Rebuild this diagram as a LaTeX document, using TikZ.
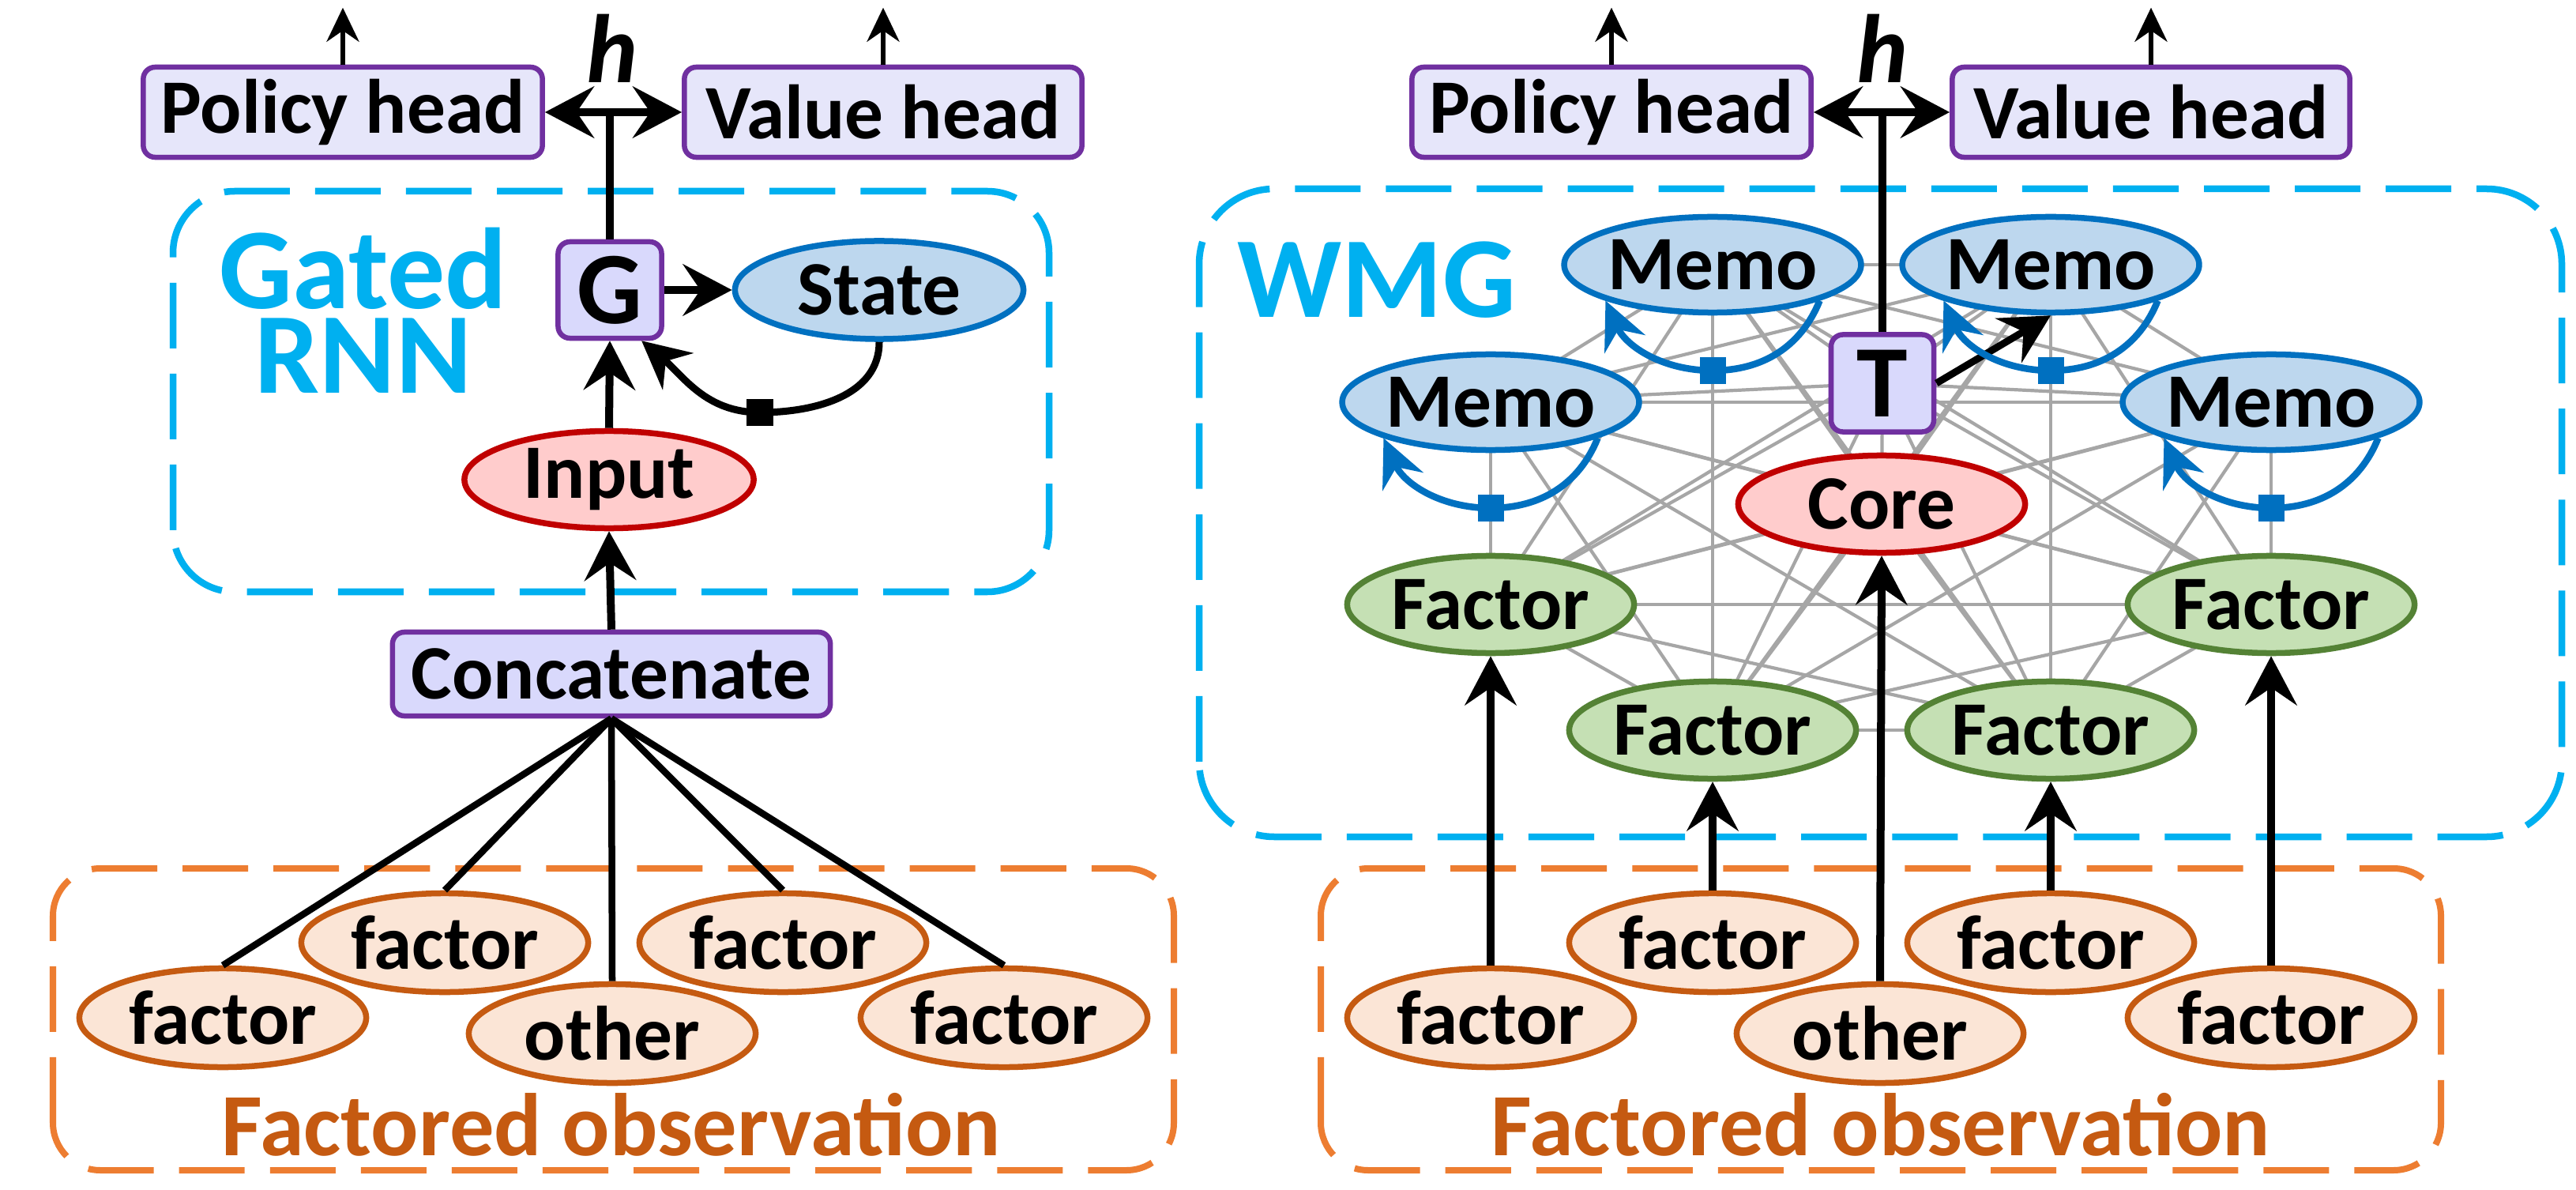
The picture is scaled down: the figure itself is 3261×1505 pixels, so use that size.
\documentclass[tikz,border=0pt]{standalone}
\usepackage{fontspec}
\setmainfont{Carlito}
\usetikzlibrary{arrows.meta,shapes.geometric,backgrounds,calc}
\definecolor{purpB}{HTML}{7030A0}
\definecolor{headF}{HTML}{E6E6FA}
\definecolor{opF}{HTML}{D9D9FC}
\definecolor{blueB}{HTML}{0070C0}
\definecolor{blueF}{HTML}{BDD7EE}
\definecolor{redB}{HTML}{C00000}
\definecolor{redF}{HTML}{FFCCCC}
\definecolor{greenB}{HTML}{548235}
\definecolor{greenF}{HTML}{C5E0B4}
\definecolor{orB}{HTML}{C55A11}
\definecolor{orF}{HTML}{FBE5D6}
\definecolor{orD}{HTML}{ED7D31}
\definecolor{cyanD}{HTML}{00B0F0}
\definecolor{meshC}{HTML}{A6A6A6}
\begin{document}
\begin{tikzpicture}[x=0.01cm,y=0.01cm,
  lbl/.style={font=\fontsize{27.7}{33}\selectfont\bfseries, text=black, inner sep=0pt},
  headbox/.style={lbl, rectangle, rounded corners=0.15cm, draw=purpB, fill=headF, line width=0.065cm, minimum width=5.05cm, minimum height=1.14cm},
  opbox/.style={rectangle, rounded corners=0.15cm, draw=purpB, fill=opF, line width=0.065cm, inner sep=0pt},
  gatebox/.style={opbox, font=\fontsize{37}{40}\selectfont\bfseries, minimum width=1.31cm, minimum height=1.22cm},
  ell/.style={lbl, ellipse, line width=0.075cm, minimum width=3.63cm, minimum height=1.23cm},
  memo/.style={ell, draw=blueB, fill=blueF, minimum height=1.21cm},
  redell/.style={ell, draw=redB, fill=redF},
  fac/.style={ell, draw=greenB, fill=greenF},
  fobs/.style={ell, draw=orB, fill=orF, minimum height=1.25cm},
  arr/.style={line width=0.1cm, -{Stealth[length=0.62cm,width=0.65cm,inset=0.22cm]}},
  dblarr/.style={line width=0.1cm, {Stealth[length=0.62cm,width=0.65cm,inset=0.22cm]}-{Stealth[length=0.62cm,width=0.65cm,inset=0.22cm]}},
  thinarr/.style={line width=0.06cm, -{Stealth[length=0.43cm,width=0.41cm,inset=0.14cm]}},
  plainline/.style={line width=0.1cm},
  conn/.style={line width=0.085cm},
  loopb/.style={draw=blueB, line width=0.085cm, -{Stealth[length=0.6cm,width=0.56cm,inset=0.2cm]}},
  loopk/.style={line width=0.09cm, -{Stealth[length=0.6cm,width=0.6cm,inset=0.2cm]}},
  sqb/.style={rectangle, fill=blueB, minimum size=0.33cm, inner sep=0pt},
  sqk/.style={rectangle, fill=black, minimum size=0.34cm, inner sep=0pt},
  mesh/.style={draw=meshC, line width=0.042cm},
  cyanbox/.style={draw=cyanD, line width=0.085cm, dash pattern=on 0.83cm off 0.32cm},
  orbox/.style={draw=orD, line width=0.08cm, dash pattern=on 0.83cm off 0.32cm, rounded corners=0.6cm},
  title/.style={font=\fontsize{41.5}{30.4}\selectfont\bfseries, text=cyanD, inner sep=0pt, align=center},
  obstitle/.style={font=\fontsize{32}{36}\selectfont\bfseries, text=orB, inner sep=0pt, anchor=base},
  hlbl/.style={font=\fontsize{35}{40}\selectfont\bfseries\itshape, inner sep=0pt, anchor=base}
]
\useasboundingbox (0,0) rectangle (3261,1505);

% ---------------- Left panel ----------------
\node[headbox] (policyL) at (434,1363) {Policy head};
\node[headbox, minimum width=5.03cm] (valueL) at (1118,1363) {Value head};
\node[gatebox] (G) at (772,1138) {G};
\node[memo, minimum width=3.65cm, minimum height=1.24cm] (state) at (1113,1138) {State};
\node[redell, minimum width=3.66cm] (input) at (771,898) {Input};
\node[opbox, lbl, minimum width=5.54cm, minimum height=1.06cm] (concat) at (774,652) {Concatenate};
\node[fobs] (lf1) at (282,217) {factor};
\node[fobs] (lf2) at (563,312) {factor};
\node[fobs] (lother) at (775,197) {other};
\node[fobs] (lf4) at (991,312) {factor};
\node[fobs] (lf5) at (1271,217) {factor};
\node[title] (gtitle) at (460,1112) {Gated\\RNN};
\node[obstitle] (obsL) at (774,43) {Factored observation};
\node[hlbl] (hL) at (775,1400) {h};
\node[sqk] (sqL) at (962,983) {};

\draw[thinarr] (policyL.north) -- ++(0,72);
\draw[thinarr] (valueL.north) -- ++(0,72);
\draw[dblarr] (policyL.east) -- (valueL.west);
\draw[plainline] (G.north) -- (G.north |- policyL.east);
\draw[arr] (G.east) -- (state.west);
\draw[arr] (input.north) -- (G.south);
\draw[arr] (concat.north) -- (input.south);
\draw[loopk] (state.south) to[out=-90,in=0] (sqL.center) to[out=180,in=-40] (G.-58);
\foreach \n in {lf1,lf2,lother,lf4,lf5} \draw[conn] (concat.south) -- (\n.north);

% ---------------- Right panel ----------------
\node[headbox] (policyR) at (2040,1363) {Policy head};
\node[headbox, minimum width=5.03cm] (valueR) at (2723,1363) {Value head};
\node[gatebox, minimum width=1.30cm, minimum height=1.23cm] (T) at (2383,1020) {T};
\node[memo] (m1) at (2168,1170) {Memo};
\node[memo] (m2) at (2596,1170) {Memo};
\node[memo] (m3) at (1887,996) {Memo};
\node[memo] (m4) at (2875,996) {Memo};
\node[redell] (core) at (2382,867) {Core};
\node[fac] (f1) at (1887,740) {Factor};
\node[fac] (f2) at (2875,740) {Factor};
\node[fac] (f3) at (2168,581) {Factor};
\node[fac] (f4) at (2596,581) {Factor};
\node[fobs] (rf1) at (1887,217) {factor};
\node[fobs] (rf2) at (2168,312) {factor};
\node[fobs] (rother) at (2380,197) {other};
\node[fobs] (rf4) at (2596,312) {factor};
\node[fobs] (rf5) at (2875,217) {factor};
\node[title, anchor=base] (wtitle) at (1743,1103) {WMG};
\node[obstitle] (obsR) at (2381,43) {Factored observation};
\node[hlbl] (hR) at (2383,1400) {h};
\node[sqb] (s1) at (2168,1036) {};
\node[sqb] (s2) at (2596,1036) {};
\node[sqb] (s3) at (1887,862) {};
\node[sqb] (s4) at (2875,862) {};

\draw[thinarr] (policyR.north) -- ++(0,72);
\draw[thinarr] (valueR.north) -- ++(0,72);
\draw[dblarr] (policyR.east) -- (valueR.west);
\draw[plainline] (T.north) -- (T.north |- policyR.east);
\draw[arr, line width=0.09cm] (T.east) -- (m2.south);
\draw[arr] (rf1.north) -- (f1.south);
\draw[arr] (rf2.north) -- (f3.south);
\draw[arr] (rother.north) -- (core.south);
\draw[arr] (rf4.north) -- (f4.south);
\draw[arr] (rf5.north) -- (f2.south);
\foreach \m/\s in {m1/s1,m2/s2,m3/s3,m4/s4}
  \draw[loopb] (\m.south east) to[out=-112,in=0] (\s.center) to[out=180,in=-66] (\m.south west);

% ---------------- Background ----------------
\begin{scope}[on background layer]
  \fill[white] (0,0) rectangle (3261,1505);
  \draw[cyanbox, rounded corners=0.78cm] (219,756) rectangle (1328,1263);
  \draw[cyanbox, rounded corners=0.95cm] (1518,446) rectangle (3243,1266);
  \draw[orbox] (67,24) rectangle (1486,406);
  \draw[orbox] (1672,24) rectangle (3090,406);
  \foreach \a/\bs in {m1/{m2,m3,m4,core,f1,f2,f3,f4,T}, m2/{m3,m4,core,f1,f2,f3,f4,T},
      m3/{m4,core,f1,f2,f3,f4,T}, m4/{core,f1,f2,f3,f4,T}, core/{f1,f2,f3,f4,T},
      f1/{f2,f3,f4,T}, f2/{f3,f4,T}, f3/{f4,T}, f4/{T}}
    \foreach \b in \bs \draw[mesh] (\a.center) -- (\b.center);
\end{scope}
\end{tikzpicture}
\end{document}
